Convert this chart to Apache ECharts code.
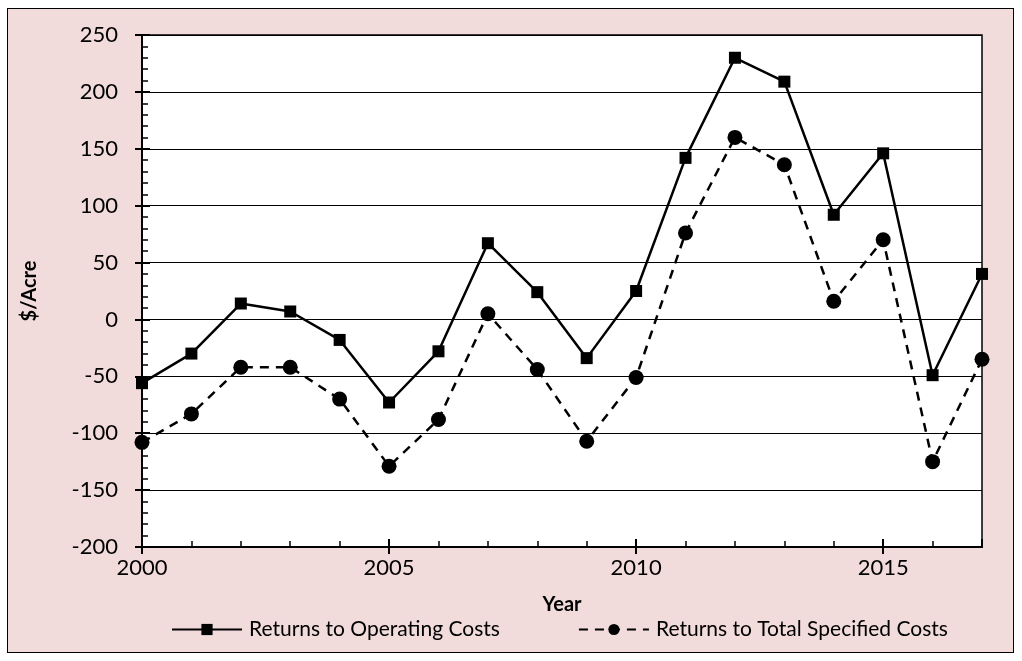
<!DOCTYPE html>
<html>
<head>
<meta charset="utf-8">
<script src="https://cdn.jsdelivr.net/npm/echarts@6/dist/echarts.min.js"></script>
<style>
  html, body { margin: 0; padding: 0; background: #fff; }
  #frame {
    position: absolute; left: 7px; top: 8px; width: 1007px; height: 645px;
    border: 1.5px solid #000; background: #f2dcdb; box-sizing: border-box;
  }
  #chart { position: absolute; left: 0; top: 0; width: 1022px; height: 661px; }
</style>
</head>
<body>
<div id="frame"></div>
<div id="chart"></div>
<script>
// data
const years = [2000, 2001, 2002, 2003, 2004, 2005, 2006, 2007, 2008, 2009,
               2010, 2011, 2012, 2013, 2014, 2015, 2016, 2017]
const operatingReturns = [-56, -30, 14, 7, -18, -73, -28, 67, 24, -34,
                          25, 142, 230, 209, 92, 146, -49, 40]
const totalReturns = [-108, -83, -42, -42, -70, -129, -88, 5, -44, -107,
                      -51, 76, 160, 136, 16, 70, -125, -35]
const seriesNames = ['Returns to Operating Costs', 'Returns to Total Specified Costs']

const font = 'Lato, "Open Sans", sans-serif'
const pairs = vals => years.map((y, i) => [y, vals[i]])

const chart = echarts.init(document.getElementById('chart'))

const xBase = { type: 'value', min: 2000, max: 2017, interval: 5, gridIndex: 0 }
const yBase = { type: 'value', min: -200, max: 250, interval: 50, gridIndex: 0 }

chart.setOption({
  backgroundColor: 'transparent',
  animation: false,
  grid: { left: 142, top: 35, right: 40, bottom: 114, show: true, borderColor: '#000', borderWidth: 1.5, backgroundColor: '#fff' },
  xAxis: [
    Object.assign({}, xBase, {
      name: 'Year', nameLocation: 'middle', nameGap: 48,
      nameTextStyle: { fontFamily: font, fontSize: 20, fontWeight: 'bold', color: '#000' },
      axisLine: { onZero: false, lineStyle: { color: '#000', width: 2 } },
      axisTick: { length: 7, lineStyle: { color: '#000', width: 2 } },
      axisLabel: { fontFamily: font, fontSize: 22, color: '#000', margin: 10, showMaxLabel: false,
                   formatter: v => String(v) },
      splitLine: { show: false }
    }),
    Object.assign({}, xBase, {
      position: 'bottom',
      axisLine: { onZero: false, lineStyle: { color: '#000', width: 2 } },
      axisTick: { inside: true, length: 8, lineStyle: { color: '#000', width: 2 } },
      minorTick: { show: true, splitNumber: 5, length: 6, lineStyle: { color: '#000', width: 1.5 } },
      axisLabel: { show: false },
      splitLine: { show: false }
    })
  ],
  yAxis: [
    Object.assign({}, yBase, {
      name: '$/Acre', nameLocation: 'middle', nameGap: 102, nameRotate: 90,
      nameTextStyle: { fontFamily: font, fontSize: 20, fontWeight: 'bold', color: '#000' },
      axisLine: { onZero: false, lineStyle: { color: '#000', width: 2 } },
      axisTick: { length: 7, lineStyle: { color: '#000', width: 2 } },
      axisLabel: { fontFamily: font, fontSize: 22, color: '#000', margin: 24 },
      splitLine: { show: true, lineStyle: { color: '#000', width: 1.2 } }
    }),
    Object.assign({}, yBase, {
      position: 'left',
      axisLine: { onZero: false, lineStyle: { color: '#000', width: 2 } },
      axisTick: { inside: true, length: 8, lineStyle: { color: '#000', width: 2 } },
      minorTick: { show: true, splitNumber: 5, length: 6, lineStyle: { color: '#000', width: 1.5 } },
      axisLabel: { show: false },
      splitLine: { show: false }
    })
  ],
  legend: {
    bottom: 16, left: 166, itemGap: 78, itemWidth: 70, itemHeight: 14,
    textStyle: { fontFamily: font, fontSize: 21, color: '#000', padding: [0, 0, 0, 2] },
    data: seriesNames
  },
  series: [
    {
      name: seriesNames[0], type: 'line', data: pairs(operatingReturns),
      symbol: 'rect', symbolSize: 12, color: '#000',
      lineStyle: { color: '#000', width: 2.5, type: 'solid' },
      itemStyle: { color: '#000' }
    },
    {
      name: seriesNames[1], type: 'line', data: pairs(totalReturns),
      symbol: 'circle', symbolSize: 15, color: '#000',
      lineStyle: { color: '#000', width: 2.5, type: [9, 7] },
      itemStyle: { color: '#000' }
    }
  ]
})
</script>
</body>
</html>
